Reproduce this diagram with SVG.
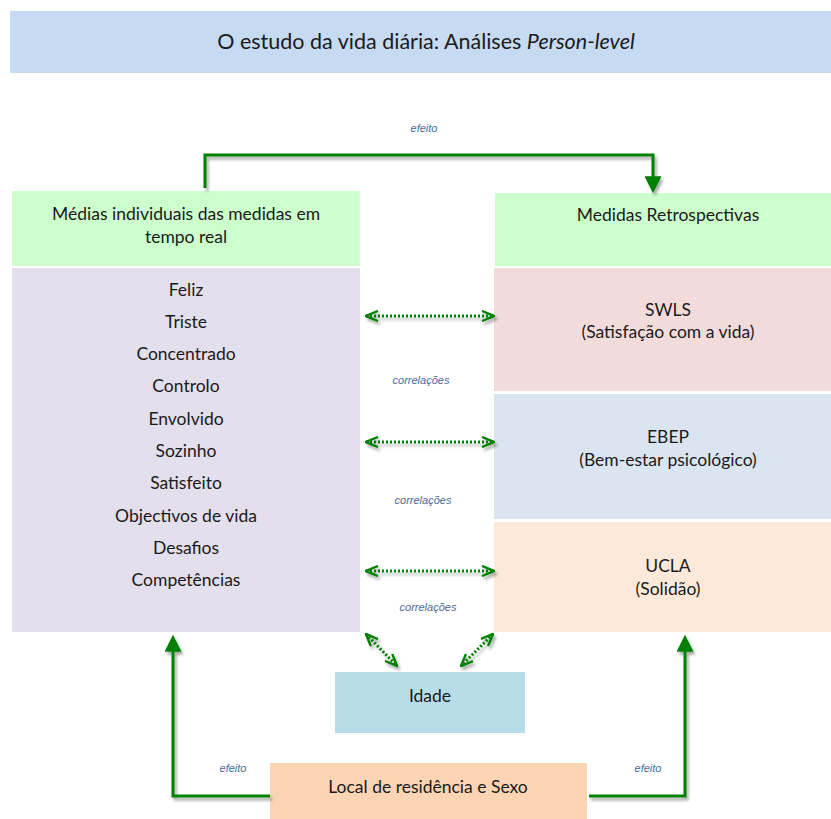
<svg xmlns="http://www.w3.org/2000/svg" width="831" height="819" viewBox="0 0 831 819">
  <style>
    .lbl { font-family: Lato, "Open Sans", sans-serif; font-size: 17.5px; fill: #1a1a1a; text-anchor: middle; }
    .ttl { font-family: Lato, "Open Sans", sans-serif; font-size: 21.5px; fill: #1a1a1a; text-anchor: middle; }
    .note { font-family: "Liberation Sans", Arial, sans-serif; font-size: 11px; font-style: italic; fill: #4a6a9a; text-anchor: middle; }
    .eff { fill: none; stroke: #008000; stroke-width: 3; stroke-linejoin: miter; }
    .cor { fill: none; stroke: #008000; stroke-width: 3; stroke-dasharray: 2 2; }
  </style>
  <defs>
    <filter id="shadow" x="-20%" y="-20%" width="140%" height="140%">
      <feGaussianBlur in="SourceAlpha" stdDeviation="1.5"/>
      <feOffset dx="2" dy="3" result="b"/>
      <feComponentTransfer><feFuncA type="linear" slope="0.35"/></feComponentTransfer>
      <feMerge><feMergeNode/><feMergeNode in="SourceGraphic"/></feMerge>
    </filter>
    <marker id="tri" viewBox="0 0 10 10" refX="4" refY="5" markerWidth="17" markerHeight="17" markerUnits="userSpaceOnUse" orient="auto">
      <path d="M0,0 L10,5 L0,10 Z" fill="#008000"/>
    </marker>
    <marker id="chev" viewBox="0 0 14 12" refX="13" refY="6" markerWidth="14" markerHeight="12" markerUnits="userSpaceOnUse" orient="auto-start-reverse">
      <path d="M1,1 L13,6 L1,11" fill="none" stroke="#008000" stroke-width="2.4"/>
    </marker>
  </defs>

  <!-- title -->
  <g id="title">
    <rect x="10" y="11" width="821" height="62" fill="#c6dbf2"/>
    <text class="ttl" x="426" y="49">O estudo da vida diária: Análises <tspan font-style="italic">Person-level</tspan></text>
  </g>

  <!-- left column -->
  <g id="medias-header">
    <rect x="12" y="191" width="348" height="75" fill="#ccffcc"/>
    <text class="lbl" x="186" y="220">Médias individuais das medidas em</text>
    <text class="lbl" x="186" y="243">tempo real</text>
  </g>
  <g id="medias-list">
    <rect x="12" y="268" width="348" height="364" fill="#e3dfec"/>
    <text class="lbl" x="186" y="296">Feliz</text>
    <text class="lbl" x="186" y="328">Triste</text>
    <text class="lbl" x="186" y="360">Concentrado</text>
    <text class="lbl" x="186" y="392">Controlo</text>
    <text class="lbl" x="186" y="425">Envolvido</text>
    <text class="lbl" x="186" y="457">Sozinho</text>
    <text class="lbl" x="186" y="489">Satisfeito</text>
    <text class="lbl" x="186" y="522">Objectivos de vida</text>
    <text class="lbl" x="186" y="554">Desafios</text>
    <text class="lbl" x="186" y="586">Competências</text>
  </g>

  <!-- right column -->
  <g id="retro-header">
    <rect x="495" y="193" width="336" height="73" fill="#ccffcc"/>
    <text class="lbl" x="668" y="221">Medidas Retrospectivas</text>
  </g>
  <g id="swls">
    <rect x="494" y="268" width="337" height="123" fill="#f2dcdb"/>
    <text class="lbl" x="668" y="316">SWLS</text>
    <text class="lbl" x="668" y="338">(Satisfação com a vida)</text>
  </g>
  <g id="ebep">
    <rect x="494" y="394" width="337" height="125" fill="#dbe5f1"/>
    <text class="lbl" x="668" y="443">EBEP</text>
    <text class="lbl" x="668" y="466">(Bem-estar psicológico)</text>
  </g>
  <g id="ucla">
    <rect x="494" y="522" width="337" height="110" fill="#fde9d9"/>
    <text class="lbl" x="668" y="572">UCLA</text>
    <text class="lbl" x="668" y="595">(Solidão)</text>
  </g>

  <!-- covariates -->
  <g id="idade">
    <rect x="335" y="672" width="190" height="61" fill="#b7dde8"/>
    <text class="lbl" x="430" y="702">Idade</text>
  </g>
  <g id="local-sexo">
    <rect x="270" y="763" width="317" height="56" fill="#fbd4b4"/>
    <text class="lbl" x="428" y="793">Local de residência e Sexo</text>
  </g>

  <!-- connectors -->
  <g id="connectors" filter="url(#shadow)">
    <path class="eff" d="M205,188 V155 H653 V183" marker-end="url(#tri)"/>
    <path class="eff" d="M270,796 H173 V645" marker-end="url(#tri)"/>
    <path class="eff" d="M589,796 H685 V645" marker-end="url(#tri)"/>

    <line class="cor" x1="366" y1="316" x2="494" y2="316" marker-start="url(#chev)" marker-end="url(#chev)"/>
    <line class="cor" x1="366" y1="442" x2="494" y2="442" marker-start="url(#chev)" marker-end="url(#chev)"/>
    <line class="cor" x1="366" y1="571" x2="494" y2="571" marker-start="url(#chev)" marker-end="url(#chev)"/>
    <line class="cor" x1="366" y1="634" x2="397" y2="666" marker-start="url(#chev)" marker-end="url(#chev)"/>
    <line class="cor" x1="493" y1="634" x2="461" y2="666" marker-start="url(#chev)" marker-end="url(#chev)"/>
  </g>

  <!-- connector labels -->
  <g id="connector-labels">
    <text class="note" x="424" y="132">efeito</text>
    <text class="note" x="421" y="384">correlações</text>
    <text class="note" x="423" y="504">correlações</text>
    <text class="note" x="428" y="611">correlações</text>
    <text class="note" x="233" y="772">efeito</text>
    <text class="note" x="648" y="772">efeito</text>
  </g>
</svg>
